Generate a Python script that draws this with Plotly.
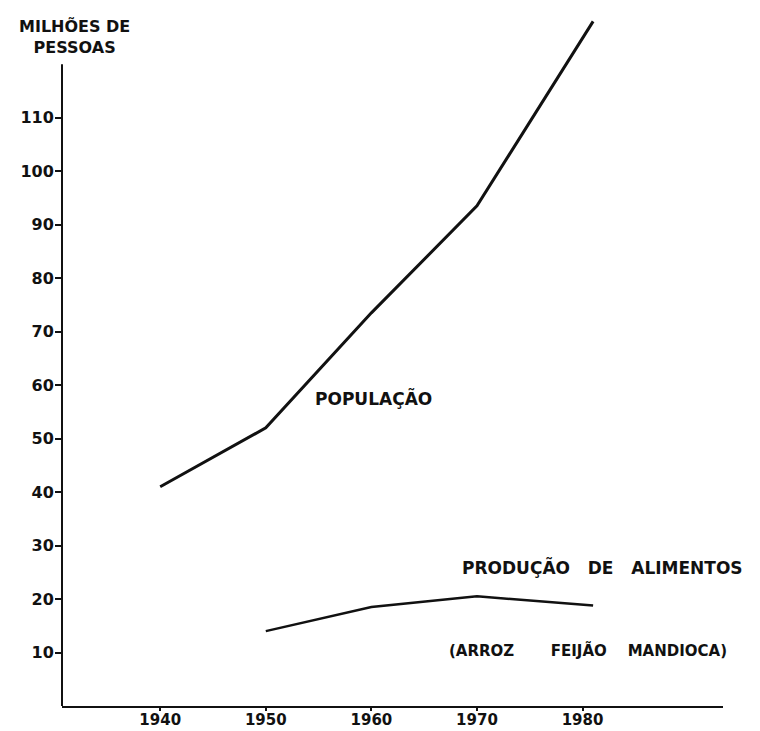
import plotly.graph_objects as go

# ---- data ----
pop_years = [1940, 1950, 1960, 1970, 1981]
pop_values = [41, 52, 73.5, 93.5, 128]

food_years = [1950, 1960, 1970, 1981]
food_values = [14, 18.5, 20.5, 18.8]

x_ticks = [1940, 1950, 1960, 1970, 1980]
x_tick_labels = ["1940", "1950", "1960", "1970", "1980"]
y_ticks = [10, 20, 30, 40, 50, 60, 70, 80, 90, 100, 110]
y_tick_labels = [str(v) for v in y_ticks]

y_title = "MILHÕES DE<br>PESSOAS"
label_pop = "POPULAÇÃO"
label_food = "PRODUÇÃO\u00a0\u00a0\u00a0DE\u00a0\u00a0\u00a0ALIMENTOS"
label_food_sub = "(ARROZ\u00a0\u00a0\u00a0\u00a0\u00a0\u00a0\u00a0FEIJÃO\u00a0\u00a0\u00a0\u00a0MANDIOCA)"

FONT = "DejaVu Sans"
INK = "#111111"

fig = go.Figure()
fig.add_trace(go.Scatter(x=pop_years, y=pop_values, mode="lines",
                         line=dict(color=INK, width=3), showlegend=False,
                         hoverinfo="skip"))
fig.add_trace(go.Scatter(x=food_years, y=food_values, mode="lines",
                         line=dict(color=INK, width=2.5), showlegend=False,
                         hoverinfo="skip"))

fig.update_layout(
    width=760, height=731,
    margin=dict(l=62, r=37, t=16, b=25),
    paper_bgcolor="white", plot_bgcolor="white",
    xaxis=dict(range=[1930.7, 1993.3], showgrid=False, zeroline=False,
               automargin=False,
               showline=True, linecolor=INK, linewidth=2,
               tickmode="array", tickvals=x_ticks, ticktext=x_tick_labels,
               ticks="outside", ticklen=3, tickwidth=1.5, tickcolor=INK,
               ticklabelstandoff=-4,
               tickfont=dict(family=FONT, size=15, color=INK, weight=700)),
    yaxis=dict(range=[0, 129], showgrid=False, zeroline=False, showline=False,
               automargin=False,
               tickmode="array", tickvals=y_ticks, ticktext=y_tick_labels,
               ticks="outside", ticklen=6, tickwidth=2, tickcolor=INK,
               ticklabelstandoff=-2,
               tickfont=dict(family=FONT, size=16, color=INK, weight=700)),
    yaxis2=dict(range=[0, 129], overlaying="y", anchor="x", side="left",
                automargin=False,
                showgrid=False, zeroline=False, showline=False,
                tickmode="array", tickvals=y_ticks, showticklabels=False,
                ticks="inside", ticklen=7, tickwidth=2, tickcolor=INK),
)

# y axis line up to 120
fig.add_shape(type="line", xref="paper", yref="y", x0=0, x1=0, y0=0, y1=120,
              line=dict(color=INK, width=2))

def ann(text, x, y, size, xanchor="center"):
    fig.add_annotation(text=text, x=x, y=y, xref="x", yref="y",
                       showarrow=False, xanchor=xanchor, yanchor="middle",
                       align="center",
                       font=dict(family=FONT, size=size, color=INK, weight=700))

ann(y_title, 1931.9, 125, 16)
ann(label_pop, 1954.5, 57.5, 17, xanchor="left")
ann(label_food, 1981.9, 25.9, 17)
ann(label_food_sub, 1980.5, 10.4, 15)

fig.write_html(
    "out.html",
    config={"displayModeBar": False},
    post_script="document.body.style.margin='0';"
                "document.documentElement.style.overflow='hidden';"
                "document.body.style.overflow='hidden';",
)
